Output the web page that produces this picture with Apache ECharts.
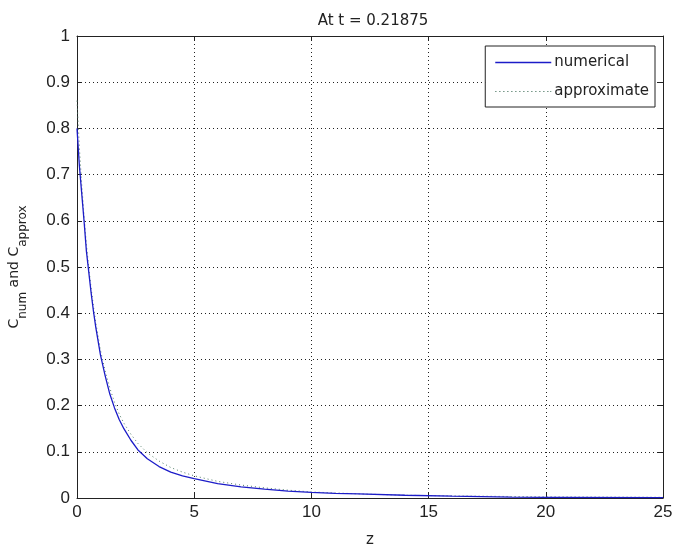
<!DOCTYPE html>
<html><head><meta charset="utf-8">
<script src="https://cdn.jsdelivr.net/npm/echarts@6/dist/echarts.min.js"></script>
<style>html,body{margin:0;padding:0;background:#fff}#c{width:674px;height:551px}</style>
</head><body><div id="c"></div>
<script>
var zNum = [0, 0.1, 0.2, 0.3, 0.4, 0.5, 0.6, 0.7, 0.8, 1.0, 1.2, 1.4, 1.6, 1.8, 2.0, 2.3, 2.6, 3.0, 3.5, 4.0, 4.5, 5, 6, 7, 8, 9, 10, 11, 12, 14, 16, 18.5, 20, 25];
var cNum = [0.80, 0.72, 0.66, 0.60, 0.535, 0.49, 0.445, 0.405, 0.37, 0.31, 0.265, 0.225, 0.195, 0.17, 0.15, 0.125, 0.104, 0.085, 0.068, 0.056, 0.048, 0.042, 0.031, 0.024, 0.019, 0.015, 0.012, 0.010, 0.009, 0.006, 0.004, 0.002, 0.0015, 0.001];
var zApp = [0, 0.1, 0.2, 0.3, 0.4, 0.5, 0.6, 0.7, 0.8, 1.0, 1.2, 1.4, 1.6, 1.8, 2.0, 2.3, 2.6, 3.0, 3.5, 4.0, 4.5, 5, 6, 7, 8, 9, 10, 12, 14, 16, 18, 20, 25];
var cApp = [0.86, 0.76, 0.68, 0.61, 0.55, 0.50, 0.455, 0.415, 0.38, 0.32, 0.275, 0.238, 0.207, 0.182, 0.162, 0.138, 0.118, 0.098, 0.080, 0.066, 0.056, 0.048, 0.036, 0.028, 0.022, 0.017, 0.013, 0.009, 0.006, 0.0045, 0.0035, 0.0025, 0.0015];
var seriesNames = ['numerical', 'approximate'];
var titleText = 'At t = 0.21875';

function pairs(xs, ys) { return xs.map(function (x, i) { return [x, ys[i]]; }); }

// legend icons (style only)
var solidIcon = 'path://M0,0L56,0L56,1.4L0,1.4Z';
var dotParts = [];
for (var k = 0; k < 56; k += 4) dotParts.push('M' + k + ',0h1.2v1.2h-1.2z');
var dotIcon = 'path://' + dotParts.join(' ') + ' M55,0h1v1.2h-1z';

var font = 'DejaVu Sans, Liberation Sans, sans-serif';
var tickFont = 'Liberation Sans, Arial, sans-serif';
var chart = echarts.init(document.getElementById('c'), null, {renderer: 'canvas'});
var tickStyle = {show: true, inside: true, length: 5, lineStyle: {color: '#222', width: 1}};
var lineStyleAxis = {show: true, onZero: false, lineStyle: {color: '#222', width: 1}};
chart.setOption({
  backgroundColor: '#fff',
  animation: false,
  title: {text: titleText, left: 368, top: 9, textAlign: 'center',
    textStyle: {fontFamily: font, fontSize: 15, fontWeight: 'normal', color: '#222'}},
  legend: {
    right: 19, top: 46, orient: 'vertical', itemGap: 14,
    padding: [9, 6, 8, 10],
    borderColor: '#222', borderWidth: 1, backgroundColor: '#fff',
    itemWidth: 56, itemHeight: 14,
    textStyle: {fontFamily: font, fontSize: 15, color: '#222', padding: [0, 0, 0, -2]},
    data: [{name: seriesNames[0], icon: solidIcon, itemStyle: {color: '#1c1cc8'}},
           {name: seriesNames[1], icon: dotIcon, itemStyle: {color: '#4f7a66'}}]
  },
  grid: {left: 77, right: 11, top: 36, bottom: 53, containLabel: false, outerBoundsMode: 'none'},
  xAxis: [{
    type: 'value', min: 0, max: 25, interval: 5, position: 'bottom',
    name: 'z', nameLocation: 'middle', nameGap: 35,
    nameTextStyle: {fontFamily: font, fontSize: 15, color: '#222'},
    axisLine: lineStyleAxis, axisTick: tickStyle,
    axisLabel: {fontFamily: tickFont, fontSize: 17, color: '#222', margin: 6},
    splitLine: {show: true, lineStyle: {color: '#222', type: [1, 3], width: 1}}
  }, {
    type: 'value', min: 0, max: 25, interval: 5, position: 'top',
    axisLine: lineStyleAxis, axisTick: tickStyle, axisLabel: {show: false}, splitLine: {show: false}
  }],
  yAxis: [{
    type: 'value', min: 0, max: 1, interval: 0.1, position: 'left',
    name: '{a|C}{s|num}{a| and C}{s|approx}', nameLocation: 'middle', nameGap: 48,
    nameTextStyle: {fontFamily: font, color: '#222', rich: {
      a: {fontFamily: font, fontSize: 14, color: '#222', lineHeight: 22, verticalAlign: 'top', padding: [0, 0, 6, 0]},
      s: {fontFamily: font, fontSize: 12, color: '#222', lineHeight: 22, verticalAlign: 'bottom', padding: [6, 0, 0, 0]}
    }},
    axisLine: lineStyleAxis, axisTick: tickStyle,
    axisLabel: {fontFamily: tickFont, fontSize: 17, color: '#222', margin: 7,
      formatter: function (v) { return (Math.round(v * 10) / 10).toString(); }},
    splitLine: {show: true, lineStyle: {color: '#222', type: [1, 3], width: 1}}
  }, {
    type: 'value', min: 0, max: 1, interval: 0.1, position: 'right',
    axisLine: lineStyleAxis, axisTick: tickStyle, axisLabel: {show: false}, splitLine: {show: false}
  }],
  series: [{
    name: seriesNames[0], type: 'line', showSymbol: false, symbol: 'none',
    data: pairs(zNum, cNum), color: '#1c1cc8',
    lineStyle: {color: '#1c1cc8', width: 1.3}, z: 3
  }, {
    name: seriesNames[1], type: 'line', showSymbol: false, symbol: 'none',
    data: pairs(zApp, cApp), color: '#4f7a66',
    lineStyle: {color: '#4f7a66', width: 1, type: [1, 3]}, z: 2
  }]
});
</script></body></html>
